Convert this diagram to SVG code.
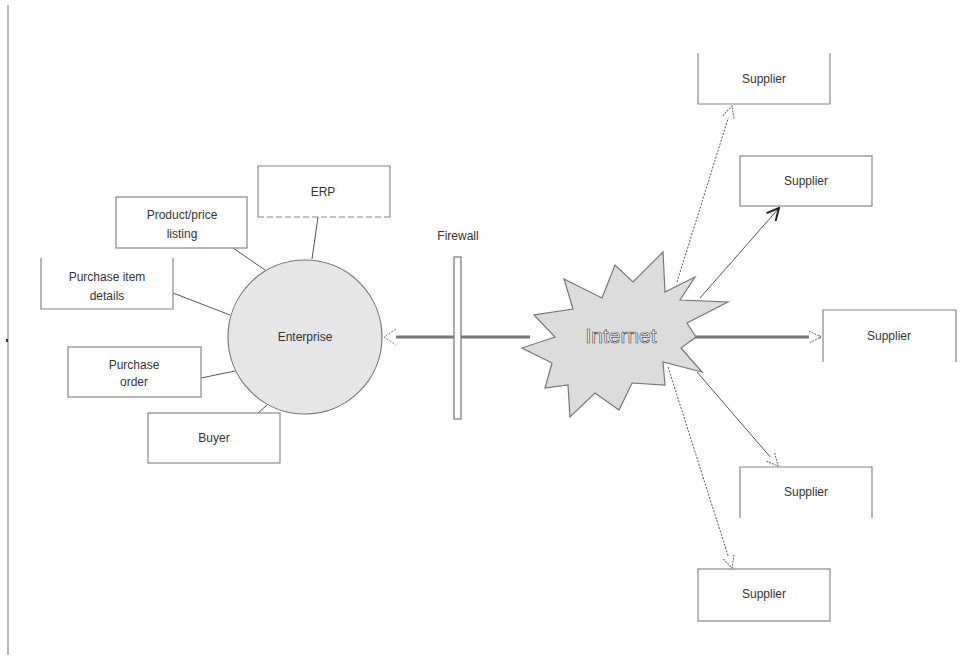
<svg xmlns="http://www.w3.org/2000/svg" width="976" height="663" viewBox="0 0 976 663">
<defs>
<style>
.box{fill:#fff;stroke:#888;stroke-width:1.2}
.edge{fill:none;stroke:#888;stroke-width:1.2}
.t{font-family:"Liberation Sans",Arial,sans-serif;font-size:12px;fill:#333;text-anchor:middle;dominant-baseline:middle}
.c{fill:none;stroke:#555;stroke-width:1}
.dot{stroke-dasharray:2,1.5}
.thick{stroke:#777;stroke-width:3}
</style>
<marker id="open" viewBox="0 0 14 14" refX="13" refY="7" markerWidth="14" markerHeight="14" markerUnits="userSpaceOnUse" orient="auto">
<path d="M1,1 L13,7 L1,13" fill="#fff" stroke="#666" stroke-width="1" stroke-dasharray="2,1"/>
</marker>
<marker id="bold" viewBox="0 0 14 14" refX="13" refY="7" markerWidth="14" markerHeight="14" markerUnits="userSpaceOnUse" orient="auto">
<path d="M1,1 L13,7 L1,13 M5,3 L13,7 L5,11" fill="none" stroke="#222" stroke-width="2"/>
</marker>
</defs>
<rect width="976" height="663" fill="#fff"/>
<line x1="8" y1="5" x2="8" y2="655" stroke="#888" stroke-width="1.2"/>
<rect x="6" y="339" width="2" height="3" fill="#333"/>

<g id="connectors">
<line class="c" x1="318" y1="217" x2="312" y2="259"/>
<line class="c" x1="233" y1="248" x2="265" y2="270"/>
<line class="c" x1="173" y1="293" x2="230" y2="315"/>
<line class="c" x1="201" y1="378" x2="235" y2="371"/>
<line class="c" x1="258" y1="413" x2="267" y2="405"/>
<line class="c thick" x1="530" y1="337" x2="396" y2="337"/>
<path d="M396,329 L384,337 L396,345" fill="none" stroke="#777" stroke-width="1" stroke-dasharray="2,1.5"/>
<line class="c dot" x1="677" y1="282" x2="732" y2="106" marker-end="url(#open)"/>
<line class="c" x1="700" y1="298" x2="779" y2="208" marker-end="url(#bold)"/>
<line class="c thick" x1="690" y1="337" x2="821" y2="337" marker-end="url(#open)"/>
<line class="c" x1="697" y1="372" x2="778" y2="466" marker-end="url(#open)"/>
<line class="c dot" x1="668" y1="367" x2="732" y2="568" marker-end="url(#open)"/>
</g>

<g id="erp">
<path class="edge" d="M258,217 L258,166 L390,166 L390,217"/>
<line x1="258" y1="217" x2="390" y2="217" stroke="#888" stroke-width="1.2" stroke-dasharray="6,3"/>
<text class="t" x="323" y="193">ERP</text>
</g>
<g id="product">
<rect class="box" x="116" y="197" width="131" height="51"/>
<text class="t" x="182" y="216">Product/price</text>
<text class="t" x="182" y="235">listing</text>
</g>
<g id="itemdetails">
<path class="edge" d="M41,258 L41,309 L173,309 L173,258"/>
<text class="t" x="107" y="278">Purchase item</text>
<text class="t" x="107" y="297">details</text>
</g>
<g id="order">
<rect class="box" x="68" y="347" width="133" height="50"/>
<text class="t" x="134" y="366">Purchase</text>
<text class="t" x="134" y="383">order</text>
</g>
<g id="buyer">
<rect class="box" x="148" y="413" width="132" height="50"/>
<text class="t" x="214" y="439">Buyer</text>
</g>
<g id="enterprise">
<circle cx="305" cy="337" r="77" fill="#e6e6e6" stroke="#777" stroke-width="1.2"/>
<text class="t" x="305" y="338">Enterprise</text>
</g>
<g id="firewall">
<rect x="454" y="257" width="7" height="162" fill="#fff" stroke="#777" stroke-width="1.2"/>
<text class="t" x="458" y="237">Firewall</text>
</g>
<g id="internet">
<polygon points="564,279 602,298 615,265 633,282 663,252 665,292 695,277 680,300 728,302 687,323 696,337 681,348 702,372 663,362 665,385 632,383 619,410 595,393 570,417 568,385 545,388 552,363 522,348 555,337 534,315 573,309" fill="#dcdcdc" stroke="#777" stroke-width="1.2"/>
<text x="621" y="337" font-family="'Liberation Sans',Arial,sans-serif" font-size="21" fill="#fff" stroke="#555" stroke-width="0.7" text-anchor="middle" dominant-baseline="middle">Internet</text>
</g>
<g id="supplier1">
<path class="edge" d="M698,53 L698,104 L830,104 L830,53"/>
<text class="t" x="764" y="80">Supplier</text>
</g>
<g id="supplier2">
<rect class="box" x="740" y="156" width="132" height="50"/>
<text class="t" x="806" y="182">Supplier</text>
</g>
<g id="supplier3">
<path class="edge" d="M823,362 L823,310 L956,310 L956,362"/>
<text class="t" x="889" y="337">Supplier</text>
</g>
<g id="supplier4">
<path class="edge" d="M740,518 L740,467 L872,467 L872,518"/>
<text class="t" x="806" y="493">Supplier</text>
</g>
<g id="supplier5">
<rect class="box" x="698" y="569" width="132" height="52"/>
<text class="t" x="764" y="595">Supplier</text>
</g>
</svg>
